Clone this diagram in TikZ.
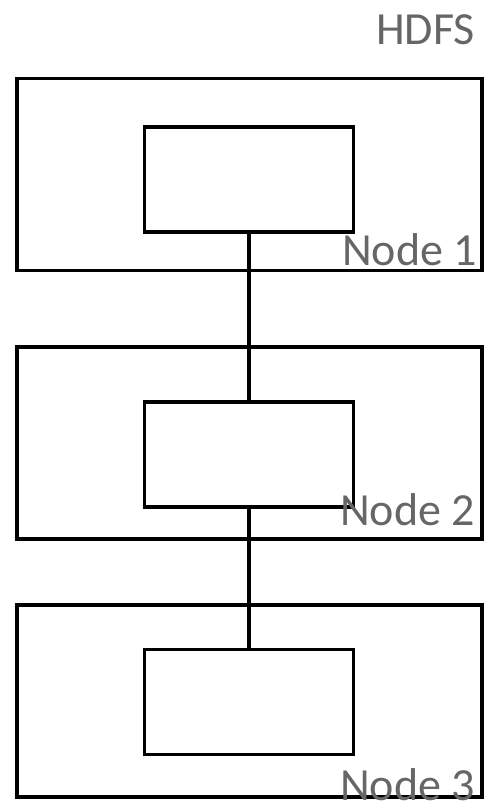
\documentclass[tikz,border=0pt]{standalone}
\usepackage{fontspec}
\setmainfont{Carlito}
\usepackage{tikz}

\begin{document}
\begin{tikzpicture}[x=1pt, y=-1pt,
    server/.style = {draw, line width=3.5pt, rectangle, inner sep=0pt, outer sep=0pt,
                     minimum width=465pt, minimum height=192pt},
    store/.style = {draw, line width=3.5pt, rectangle, inner sep=0pt, outer sep=0pt,
                    minimum width=209pt, minimum height=105pt},
    tag/.style = {text=black!60, inner sep=0pt, anchor=base east, text depth=0pt,
                  font=\fontsize{46}{55}\selectfont}]
                  \useasboundingbox (0,0) rectangle (487,808);
                  \node[server] (n1) at (249.5,174.5) {};
                  \node[server] (n2) at (249.5,443) {};
                  \node[server] (n3) at (249.5,701) {};
                  \node[store] (b1) at (249,179.5) {};
                  \node[store] (b2) at (249,454.5) {};
                  \node[store] (b3) at (249,702) {};
                  \draw[line width=3.5pt] (b1) -- (b2);
                  \draw[line width=3.5pt] (b2) -- (b3);
                  \node[tag] (hdfs) at (475,45) {HDFS};
                  \node[tag] (t1) at (477,265) {Node 1};
                  \node[tag] (t2) at (475,525) {Node 2};
                  \node[tag] (t3) at (475,800) {Node 3};
              \end{tikzpicture}
\end{document}
